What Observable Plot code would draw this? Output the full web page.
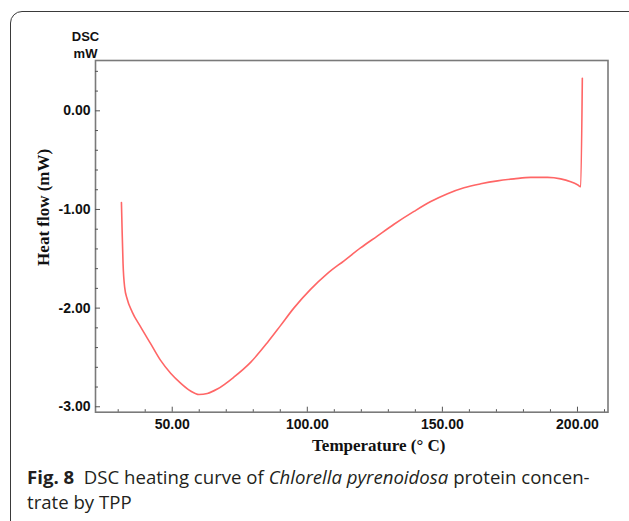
<!DOCTYPE html>
<html>
<head>
<meta charset="utf-8">
<script src="https://cdn.jsdelivr.net/npm/d3@7"></script>
<script src="https://cdn.jsdelivr.net/npm/@observablehq/plot@0.6"></script>
<style>
  html, body { margin: 0; padding: 0; background: #fff; overflow: hidden; }
  #wrap { position: relative; width: 629px; height: 521px; overflow: hidden; background: #fff; }
  #box { position: absolute; left: 10px; top: 11px; width: 700px; height: 600px;
         border: 1.4px solid #3a3a3a; border-radius: 12px; box-sizing: border-box; }
  #chart { position: absolute; left: 0; top: 0; }
  #caption { position: absolute; left: 27px; top: 464px; width: 595px;
             font-family: "Open Sans", "Noto Sans", sans-serif; font-size: 18.6px;
             line-height: 25px; color: #231f20; white-space: nowrap; }
  #caption b { font-weight: 700; }
</style>
</head>
<body>
<div id="wrap">
  <div id="box"></div>
  <div id="chart"></div>
  <div id="caption"><b>Fig. 8</b>&nbsp; DSC heating curve of <i>Chlorella pyrenoidosa</i> protein concen-<br>trate by TPP</div>
</div>
<script>
// Temperature (°C)
const temperature = [31.2, 31.45, 31.8, 32.4, 33.3, 35.2, 38.3, 42.0, 45.7, 49.4, 53.1, 56.8, 59.9, 63.0, 66.7, 72.8, 79.0, 85.2, 90.0, 95.0, 101.2, 107.4, 113.6, 119.7, 125.9, 132.1, 139.5, 145.7, 151.9, 158.0, 164.2, 170.4, 176.5, 182.7, 188.9, 193.8, 197.5, 200.0, 201.2, 201.8];
// Heat flow (mW)
const heatFlow = [-0.93, -1.21, -1.55, -1.79, -1.905, -2.04, -2.19, -2.36, -2.53, -2.66, -2.76, -2.84, -2.875, -2.865, -2.82, -2.70, -2.55, -2.35, -2.18, -2.00, -1.81, -1.65, -1.52, -1.39, -1.27, -1.15, -1.02, -0.92, -0.84, -0.78, -0.74, -0.71, -0.69, -0.675, -0.675, -0.69, -0.72, -0.75, -0.77, 0.33];

const xMajor = [50, 100, 150, 200];
const xMinor = [30, 40, 60, 70, 80, 90, 110, 120, 130, 140, 160, 170, 180, 190, 210];
const yMajor = [0, -1, -2, -3];
const yMinor = [0.4, 0.2, -0.2, -0.4, -0.6, -0.8, -1.2, -1.4, -1.6, -1.8, -2.2, -2.4, -2.6, -2.8];

const xLabel = "Temperature (° C)";
const yLabel = "Heat flow (mW)";
const unitLabel = "DSC\nmW";

const data = temperature.map((t, i) => ({t, h: heatFlow[i]}));

const tickFont = {fontFamily: "'Liberation Sans', Arial, sans-serif", fontWeight: "bold", fontSize: 14, fill: "#111"};

const chart = Plot.plot({
  width: 629,
  height: 462,
  marginLeft: 95,
  marginRight: 21.5,
  marginTop: 60,
  marginBottom: 50.3,
  style: {background: "transparent", overflow: "visible"},
  x: {domain: [21.6, 211.3]},
  y: {domain: [-3.055, 0.51]},
  marks: [
    Plot.frame({stroke: "#7a7a7a", strokeWidth: 1.6}),
    // minor/major inward ticks
    Plot.axisX({ticks: xMinor, tickSize: -2.5, text: null, stroke: "#555", strokeWidth: 1, label: null}),
    Plot.axisX({ticks: xMajor, tickSize: -5, text: null, stroke: "#555", strokeWidth: 1, label: null}),
    Plot.axisY({ticks: yMinor, tickSize: -3, text: null, stroke: "#555", strokeWidth: 1, label: null}),
    Plot.axisY({ticks: yMajor, tickSize: -5, text: null, stroke: "#555", strokeWidth: 1, label: null}),
    // labels
    Plot.axisX({ticks: xMajor, tickSize: 0, tickPadding: 6.5, tickFormat: d => d.toFixed(2), label: null, ...tickFont}),
    Plot.axisY({ticks: yMajor, tickSize: 0, tickPadding: 5, tickFormat: d => d.toFixed(2), label: null, ...tickFont}),
    Plot.text([xLabel], {frameAnchor: "bottom", dx: 27, dy: 33, text: d => d, fontFamily: "'Liberation Serif', 'Times New Roman', serif", fontWeight: "bold", fontSize: 17, fill: "#111", lineAnchor: "middle", textAnchor: "middle"}),
    Plot.text([yLabel], {frameAnchor: "left", dx: -52, dy: -29, rotate: -90, text: d => d, fontFamily: "'Liberation Serif', 'Times New Roman', serif", fontWeight: "bold", fontSize: 17, fill: "#111", textAnchor: "middle", lineAnchor: "middle"}),
    Plot.text([unitLabel], {frameAnchor: "top-left", dx: -10, dy: -3, text: d => d, lineAnchor: "bottom", lineHeight: 1.3, fontFamily: "'Liberation Sans', Arial, sans-serif", fontWeight: "bold", fontSize: 13, fill: "#111", textAnchor: "middle"}),
    Plot.line(data, {x: "t", y: "h", stroke: "#ff6666", strokeWidth: 1.6, curve: "monotone-x"})
  ]
});
document.getElementById("chart").appendChild(chart);
</script>
</body>
</html>
